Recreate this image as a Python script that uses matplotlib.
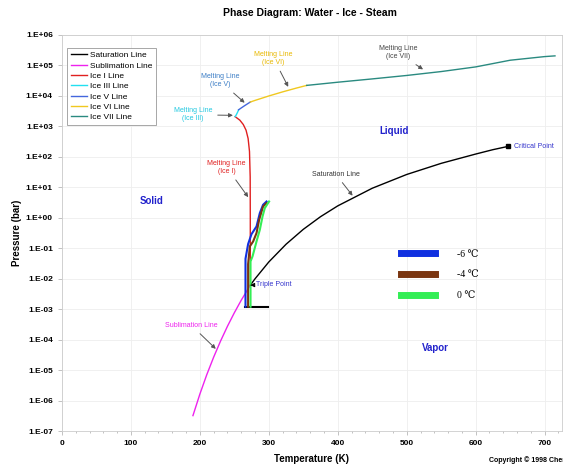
import numpy as np
import matplotlib
matplotlib.use("Agg")
import matplotlib.pyplot as plt
from matplotlib.ticker import FixedLocator, FuncFormatter, MultipleLocator, LogLocator, NullFormatter

matplotlib.rcParams['font.family'] = ['Liberation Sans', 'DejaVu Sans']

# --- phase lines (T in K, P in bar) ---
sat_T = [273.16, 280, 300, 325, 350, 375, 400, 450, 500, 550, 600, 625, 647.1]
sat_P = [0.00612, 0.0099, 0.0354, 0.1351, 0.4168, 1.085, 2.458, 9.32, 26.39, 61.2, 123.5, 172.0, 220.6]

sub_T = [190, 200, 210, 220, 230, 240, 250, 260, 273.16]
sub_P = [3.2e-7, 1.62e-6, 7.01e-6, 2.65e-5, 8.94e-5, 2.73e-4, 7.60e-4, 1.96e-3, 6.11e-3]

ice1_T = [273.16, 273.15, 273.0, 272.0, 270.0, 267.0, 263.0, 258.0, 251.2]
ice1_P = [0.0061, 1, 22, 150, 400, 750, 1150, 1600, 2086]

ice3_T = [251.2, 253.0, 255.0, 256.2]
ice3_P = [2086, 2429, 3013, 3501]

ice5_T = [256.2, 260.0, 265.0, 270.0, 273.3]
ice5_P = [3501, 4026, 4796, 5670, 6324]

ice6_T = [273.3, 280, 300, 320, 340, 355]
ice6_P = [6324, 7124, 9960, 13567, 18090, 22160]

ice7_T = [355, 400, 450, 500, 550, 600, 650, 700, 715]
ice7_P = [22160, 28170, 36190, 46960, 63070, 89640, 148500, 195400, 206400]

# --- measured traces ---
m6_T = [266.2, 266.2, 270.0, 274.9, 282.2, 287.0, 291.7, 296.7]
m6_P = [1.2e-3, 0.045, 0.137, 0.29, 0.52, 1.43, 2.67, 3.42]
m4_T = [270.0, 270.0, 272.5, 277.3, 282.2, 286.0, 291.7, 296.7]
m4_P = [1.2e-3, 0.03, 0.115, 0.167, 0.315, 0.86, 2.35, 3.03]
m0_T = [273.5, 273.5, 276.4, 282.2, 287.0, 290.9, 294.2, 300.4]
m0_P = [1.2e-3, 0.037, 0.054, 0.167, 0.405, 1.10, 2.08, 3.42]
base_T = [266.2, 298.5]
base_P = [1.2e-3, 1.2e-3]

triple = (273.16, 0.00612)
critical = (647.1, 220.6)

fig = plt.figure(figsize=(5.63, 4.66), dpi=100)
ax = fig.add_axes([0.110, 0.0751, 0.888, 0.8498])

l1, = ax.plot(sat_T, sat_P, color='black', lw=1.0, label='Saturation Line')
l2, = ax.plot(sub_T, sub_P, color='#ee22ee', lw=1.0, label='Sublimation Line')
l3, = ax.plot(ice1_T, ice1_P, color='#e02020', lw=1.0, label='Ice I Line')
l4, = ax.plot(ice3_T, ice3_P, color='#22e0f0', lw=1.0, label='Ice III Line')
l5, = ax.plot(ice5_T, ice5_P, color='#4466dd', lw=1.0, label='Ice V Line')
l6, = ax.plot(ice6_T, ice6_P, color='#f0c820', lw=1.0, label='Ice VI Line')
l7, = ax.plot(ice7_T, ice7_P, color='#2a8a80', lw=1.0, label='Ice VII Line')

ax.plot(base_T, base_P, color='black', lw=1.5)
a, = ax.plot(m6_T, m6_P, color='#1030e0', lw=1.5)
b, = ax.plot(m4_T, m4_P, color='#7a3510', lw=1.5)
c, = ax.plot(m0_T, m0_P, color='#33ee55', lw=1.5)

ax.plot(*critical, marker='s', color='black', ms=3)

ax.set_yscale('log')
ax.set_xlim(0, 725)
ax.set_ylim(1e-7, 1e6)
ax.yaxis.set_major_locator(FixedLocator([10.0**k for k in range(-7, 7)]))
ax.yaxis.set_major_formatter(FuncFormatter(lambda v, p: "1.E%+03d" % int(round(np.log10(v)))))
ax.yaxis.set_minor_locator(LogLocator(base=10, subs=np.arange(2, 10)))
ax.yaxis.set_minor_formatter(NullFormatter())
ax.xaxis.set_major_locator(MultipleLocator(100))
ax.xaxis.set_minor_locator(MultipleLocator(20))
ax.tick_params(labelsize=6, length=3, color='#aaaaaa', width=0.5)
ax.tick_params(which='minor', length=1.5, color='#aaaaaa', width=0.5)
for t in ax.get_xticklabels() + ax.get_yticklabels():
    t.set_fontweight('bold')
ax.grid(True, color='#eeeeee', lw=0.6)
for s in ax.spines.values():
    s.set_color('#cccccc')
    s.set_linewidth(0.6)

ax.set_xlabel('Temperature (K)', fontsize=7, fontweight='bold', labelpad=5)
ax.set_ylabel('Pressure (bar)', fontsize=7, fontweight='bold', labelpad=3)
fig.text(0.55, 0.972, 'Phase Diagram: Water - Ice - Steam', ha='center', va='center',
         fontsize=7.5, fontweight='bold')
fig.text(0.868, 0.008, 'Copyright \u00a9 1998 Chemicalogic', fontsize=5, fontweight='bold')

leg = ax.legend(handles=[l1, l2, l3, l4, l5, l6, l7], loc='upper left',
                bbox_to_anchor=(0.010, 0.968), fontsize=6, handlelength=2.0,
                labelspacing=0.3, fancybox=False, edgecolor='#999999', framealpha=1,
                borderpad=0.45, handletextpad=0.3, borderaxespad=0)
leg.get_frame().set_linewidth(0.6)
ax.add_artist(leg)

leg2 = ax.legend(handles=[a, b, c], labels=['-6 \u2103', '-4 \u2103', '0 \u2103'],
                 loc='upper left', bbox_to_anchor=(0.661, 0.48), frameon=False,
                 handlelength=3.5, handletextpad=2.2, labelspacing=1.2,
                 prop={'family': ['Liberation Serif', 'DejaVu Serif'], 'size': 7})
for h in leg2.get_lines():
    h.set_linewidth(5)

arr = dict(arrowstyle='-|>', color='#555555', lw=0.7, mutation_scale=6)
fs = 5
ax.annotate('Melting Line\n(Ice VII)', xy=(527, 66000), xytext=(488, 2.6e5), fontsize=fs,
            color='#444444', ha='center', va='center', arrowprops=arr)
ax.annotate('Melting Line\n(Ice VI)', xy=(330, 16500), xytext=(307, 1.7e5), fontsize=fs,
            color='#e8b800', ha='center', va='center', arrowprops=arr)
ax.annotate('Melting Line\n(Ice V)', xy=(268, 5200), xytext=(229, 3.1e4), fontsize=fs,
            color='#3a7cc5', ha='center', va='center', arrowprops=arr)
ax.annotate('Melting Line\n(Ice III)', xy=(252, 2300), xytext=(190, 2.4e3), fontsize=fs,
            color='#22c8e0', ha='center', va='center', arrowprops=arr)
ax.annotate('Melting Line\n(Ice I)', xy=(272.5, 4), xytext=(239, 45), fontsize=fs,
            color='#e02020', ha='center', va='center', arrowprops=arr)
ax.annotate('Saturation Line', xy=(424, 4.5), xytext=(397, 27), fontsize=fs,
            color='#333333', ha='center', va='center', arrowprops=arr)
ax.annotate('Sublimation Line', xy=(226, 4.3e-5), xytext=(188, 2.9e-4), fontsize=fs,
            color='#ee22ee', ha='center', va='center', arrowprops=arr)
ax.annotate('Triple Point', xy=triple, xytext=(282, 0.0065), fontsize=fs,
            color='#3333cc', ha='left', va='center',
            arrowprops=dict(arrowstyle='-|>', color='black', lw=0.7, mutation_scale=6))
ax.text(655, 220.6, 'Critical Point', fontsize=fs, color='#3333cc', ha='left', va='center')

ax.text(130, 3.6, 'Solid', fontsize=7, fontweight='bold', color='#2222cc', ha='center', va='center')
ax.text(481, 700, 'Liquid', fontsize=7, fontweight='bold', color='#2222cc', ha='center', va='center')
ax.text(542, 5.5e-5, 'Vapor', fontsize=7, fontweight='bold', color='#2222cc', ha='center', va='center')

fig.savefig('out.png', dpi=100)
